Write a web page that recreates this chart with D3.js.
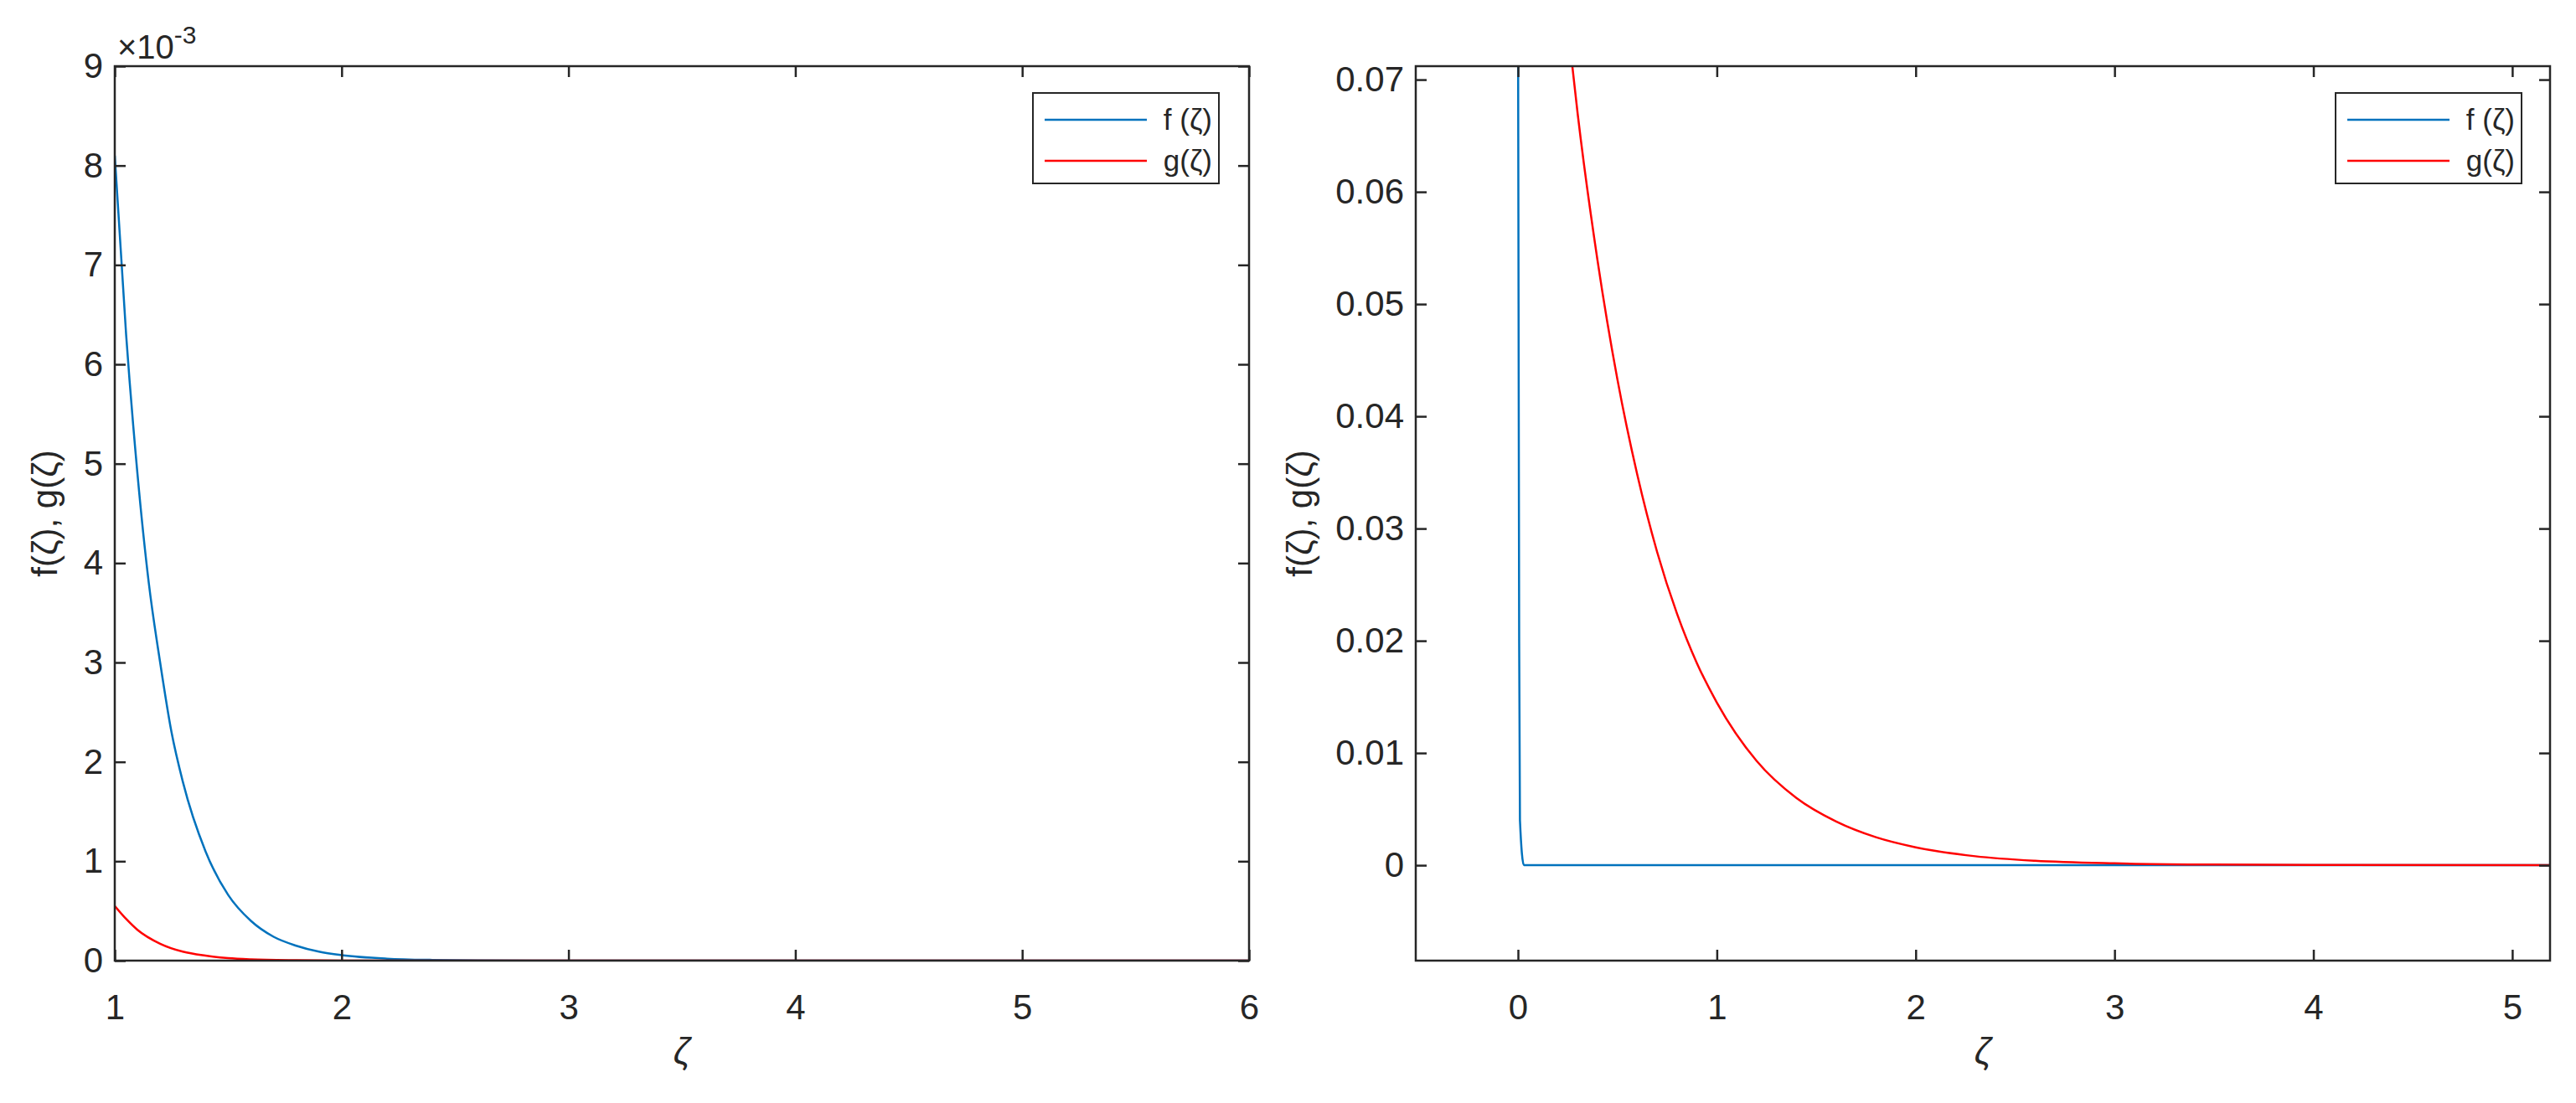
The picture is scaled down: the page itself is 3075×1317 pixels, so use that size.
<!DOCTYPE html>
<html><head><meta charset="utf-8">
<script src="https://cdn.jsdelivr.net/npm/d3@7"></script>
<style>body{margin:0;background:#fff}text{font-family:"Liberation Sans",Arial,sans-serif;fill:#262626}</style>
</head><body>
<svg id="c" width="3075" height="1317"></svg>
<script>
// left panel, values in units of 1e-3
const leftF = [[1,8.1],[1.05,6.3],[1.1,4.9],[1.15,3.8],[1.2,3.0],[1.25,2.3],[1.3,1.8],[1.4,1.1],[1.5,0.66],[1.6,0.40],[1.7,0.24],[1.8,0.15],[1.9,0.09],[2.0,0.055],[2.2,0.02],[2.4,0.007],[2.6,0.003],[3,0.0004],[4,0],[6,0]];
const leftG = [[1,0.55],[1.05,0.42],[1.1,0.31],[1.2,0.17],[1.3,0.09],[1.4,0.05],[1.5,0.025],[1.6,0.013],[1.8,0.004],[2,0.001],[2.5,0],[6,0]];
// right panel
const rightF = [[0.0,0.08],[0.003,0.05],[0.006,0.02],[0.01,0.004],[0.03,0],[5.2,0]];
const rightG = [[0.2,0.0835],[0.26,0.0733],[0.3,0.0670],[0.4,0.0539],[0.5,0.0433],[0.6,0.0348],[0.7,0.0279],[0.8,0.0224],[0.9,0.0180],[1.0,0.0145],[1.2,0.0093],[1.4,0.0060],[1.6,0.0039],[1.8,0.0025],[2.0,0.0016],[2.3,0.0008],[2.6,0.0004],[3,0.00017],[3.5,0.00006],[4,0.00002],[5.2,0]];
const leftXTicks = [1,2,3,4,5,6];
const leftYTicks = [0,1,2,3,4,5,6,7,8,9];
const rightXTicks = [0,1,2,3,4,5];
const rightYTicks = [0,0.01,0.02,0.03,0.04,0.05,0.06,0.07];
const legendLabels = ["f (\u03B6)", "g(\u03B6)"];
const colors = ["#0072BD", "#FF0000"];

const svg = d3.select("#c");
const ink = "#262626";

function panel(box, xd, yd, xt, yt, fmt, series, legBox, labelX) {
  const x = d3.scaleLinear().domain(xd).range([box.x0, box.x1]);
  const y = d3.scaleLinear().domain(yd).range([box.y1, box.y0]);
  const g = svg.append("g");
  const id = "clip" + box.x0;
  svg.append("clipPath").attr("id", id).append("rect")
    .attr("x", box.x0).attr("y", box.y0).attr("width", box.x1 - box.x0).attr("height", box.y1 - box.y0);

  const line = d3.line().x(d => x(d[0])).y(d => y(d[1])).curve(d3.curveMonotoneX);
  series.forEach((s, i) => {
    g.append("path").datum(s).attr("d", line).attr("clip-path", `url(#${id})`)
      .attr("fill", "none").attr("stroke", colors[i]).attr("stroke-width", 2.5);
  });

  const tl = 13;
  const axes = [
    [d3.axisBottom(x).tickValues(xt).tickSize(tl).tickFormat(d3.format("d")), `translate(0,${box.y1})`],
    [d3.axisTop(x).tickValues(xt).tickSize(tl).tickFormat(""), `translate(0,${box.y0})`],
    [d3.axisLeft(y).tickValues(yt).tickSize(tl).tickFormat(fmt), `translate(${box.x0},0)`],
    [d3.axisRight(y).tickValues(yt).tickSize(tl).tickFormat(""), `translate(${box.x1},0)`]
  ];
  axes.forEach(([ax, tr], k) => {
    const a = g.append("g").attr("transform", tr).call(ax);
    a.select(".domain").remove();
    a.selectAll("line").attr("stroke", ink).attr("stroke-width", 2.5)
      .attr(k < 2 ? "y2" : "x2", k === 0 || k === 3 ? -tl : tl);
    a.selectAll("text").style("font-size", "42px").attr("fill", ink);
    if (k === 0) a.selectAll("text").attr("y", 40);
    if (k === 2) a.selectAll("text").attr("x", -14);
  });
  g.append("rect").attr("x", box.x0).attr("y", box.y0)
    .attr("width", box.x1 - box.x0).attr("height", box.y1 - box.y0)
    .attr("fill", "none").attr("stroke", ink).attr("stroke-width", 2.5);

  g.append("text").attr("x", (box.x0 + box.x1) / 2).attr("y", 1270)
    .attr("text-anchor", "middle").style("font-size", "44px").style("font-style", "italic").text("\u03B6");
  g.append("text").attr("transform", `translate(${labelX},${(box.y0 + box.y1) / 2}) rotate(-90)`)
    .attr("text-anchor", "middle").style("font-size", "42px").text("f(\u03B6), g(\u03B6)");

  const lg = g.append("g");
  lg.append("rect").attr("x", legBox.x0).attr("y", 111).attr("width", legBox.x1 - legBox.x0).attr("height", 108)
    .attr("fill", "#fff").attr("stroke", ink).attr("stroke-width", 2);
  legendLabels.forEach((t, i) => {
    const yy = 143 + i * 49;
    lg.append("line").attr("x1", legBox.x0 + 14).attr("x2", legBox.x0 + 136).attr("y1", yy).attr("y2", yy)
      .attr("stroke", colors[i]).attr("stroke-width", 2.5);
    lg.append("text").attr("x", legBox.x1 - 8).attr("y", yy + 12).attr("text-anchor", "end")
      .style("font-size", "35px").text(t);
  });
}

panel({x0:137, x1:1491, y0:79, y1:1147}, [1, 6], [0, 9], leftXTicks, leftYTicks, d3.format("d"),
  [leftF, leftG], {x0:1233, x1:1455}, 68);
svg.append("text").attr("x", 140).attr("y", 70).style("font-size", "40px")
  .html('\u00D710<tspan dy="-18" font-size="30px">-3</tspan>');

panel({x0:1690, x1:3044, y0:79, y1:1147}, [-0.514, 5.19], [-0.0085, 0.0712], rightXTicks, rightYTicks,
  d => d === 0 ? "0" : d3.format(".2f")(d), [rightF, rightG], {x0:2788, x1:3010}, 1566);
</script>
</body></html>
